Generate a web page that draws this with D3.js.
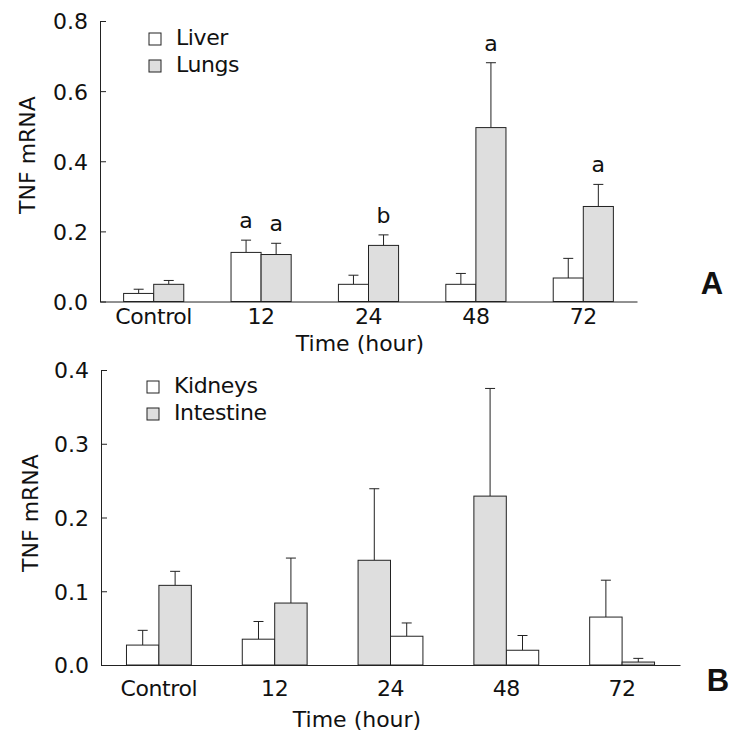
<!DOCTYPE html>
<html>
<head>
<meta charset="utf-8">
<script src="https://cdn.jsdelivr.net/npm/d3@7"></script>
<style>
  body { margin: 0; background: #fff; }
  svg text { font-family: "DejaVu Sans", sans-serif; fill: #111; }
</style>
</head>
<body>
<svg id="chart" width="741" height="742"></svg>
<script>
const categories = ['Control', '12', '24', '48', '72'];

// panel A
const liverMean = [0.023, 0.140, 0.049, 0.049, 0.067];
const liverErr = [0.012, 0.035, 0.026, 0.031, 0.056];
const lungsMean = [0.049, 0.134, 0.160, 0.496, 0.271];
const lungsErr = [0.011, 0.032, 0.030, 0.185, 0.063];
const liverMarks = ['', 'a', '', '', ''];
const lungsMarks = ['', 'a', 'b', 'a', 'a'];
const ticksA = [0, 0.2, 0.4, 0.6, 0.8];

// panel B
const kidneysMean = [0.027, 0.035, 0.039, 0.020, 0.065];
const kidneysErr = [0.020, 0.024, 0.018, 0.020, 0.050];
const intestineMean = [0.108, 0.084, 0.142, 0.229, 0.004];
const intestineErr = [0.019, 0.061, 0.097, 0.146, 0.005];
// which side each organ sits on, per time point
const orderB = [
  ['Kidneys', 'Intestine'],
  ['Kidneys', 'Intestine'],
  ['Intestine', 'Kidneys'],
  ['Intestine', 'Kidneys'],
  ['Kidneys', 'Intestine']
];
const ticksB = [0, 0.1, 0.2, 0.3, 0.4];

const fills = { white: '#ffffff', grey: '#dedede' };
const fs = '22px';
const svg = d3.select('#chart');

const drawPanel = p => {
  const g = svg.append('g');
  const x0 = d3.scaleBand().domain(categories).range(p.xr)
    .paddingInner(0.44).paddingOuter(0.22);
  const x1 = d3.scaleBand().domain([0, 1]).range([0, x0.bandwidth()]);
  const y = d3.scaleLinear().domain(p.ydom).range(p.yr);

  // bars
  const bars = [];
  p.series.forEach(s => {
    categories.forEach((c, i) => {
      bars.push({
        cat: c, name: s.name, fill: s.fill,
        v: s.mean[i], e: s.err[i], mark: s.marks ? s.marks[i] : '',
        slot: p.order[i].indexOf(s.name)
      });
    });
  });
  const bx = d => x0(d.cat) + x1(d.slot);
  const bw = x1.bandwidth();

  // error bars (upper only)
  g.selectAll('.err').data(bars).enter().append('path')
    .attr('d', d => {
      const cx = bx(d) + bw / 2;
      return `M${cx},${y(d.v)}V${y(d.v + d.e)}M${cx - 5},${y(d.v + d.e)}H${cx + 5}`;
    })
    .attr('stroke', '#222').attr('fill', 'none');

  g.selectAll('.bar').data(bars).enter().append('rect')
    .attr('x', bx).attr('width', bw)
    .attr('y', d => y(d.v)).attr('height', d => y(0) - y(d.v))
    .attr('fill', d => d.fill).attr('stroke', '#222');

  g.selectAll('.mark').data(bars.filter(d => d.mark)).enter().append('text')
    .attr('x', d => bx(d) + bw / 2).attr('y', d => y(d.v + d.e) - 12)
    .attr('text-anchor', 'middle').style('font-size', fs)
    .text(d => d.mark);

  // axes
  const ya = g.append('g').attr('transform', `translate(${p.xr[0]},0)`)
    .call(d3.axisLeft(y).tickValues(p.ticks).tickFormat(d3.format('.1f'))
      .tickSizeInner(-6).tickSizeOuter(0).tickPadding(12));
  ya.selectAll('text').style('font-size', fs).attr('dy', '0.36em');

  const xa = g.append('g').attr('transform', `translate(0,${y(0)})`)
    .call(d3.axisBottom(x0).tickSize(0).tickPadding(p.xpad));
  xa.selectAll('text').style('font-size', fs).style('letter-spacing', '-0.4px');
  g.selectAll('.domain, .tick line').attr('stroke', '#222');
  g.selectAll('.tick text').attr('fill', '#111').attr('font-family', null);

  g.append('text').attr('x', p.xtitle[0]).attr('y', p.xtitle[1])
    .attr('text-anchor', 'middle').style('font-size', fs).text('Time (hour)');
  g.append('text')
    .attr('transform', `translate(${p.ytitle[0]},${p.ytitle[1]}) rotate(-90)`)
    .attr('text-anchor', 'middle').style('font-size', fs).text('TNF mRNA');

  // legend
  p.series.forEach((s, i) => {
    g.append('rect').attr('x', p.legend[0]).attr('y', p.legend[1] + i * 27)
      .attr('width', 12).attr('height', 12)
      .attr('fill', s.fill).attr('stroke', '#222');
    g.append('text').attr('x', p.legend[0] + 27).attr('y', p.legend[1] + i * 27 + 12)
      .style('font-size', fs).style('letter-spacing', '-0.4px').text(s.name);
  });

  g.append('text').attr('x', p.tag[0]).attr('y', p.tag[1])
    .attr('text-anchor', 'middle')
    .style('font-family', '"Liberation Sans", Arial, sans-serif')
    .style('font-weight', 'bold').style('font-size', '31px').text(p.label);
};

drawPanel({
  label: 'A', tag: [712, 294],
  xr: [100, 637], yr: [301.5, 21], ydom: [0, 0.8], ticks: ticksA, xpad: 7,
  xtitle: [360, 351], ytitle: [35, 155], legend: [149, 33],
  order: categories.map(() => ['Liver', 'Lungs']),
  series: [
    { name: 'Liver', mean: liverMean, err: liverErr, marks: liverMarks, fill: fills.white },
    { name: 'Lungs', mean: lungsMean, err: lungsErr, marks: lungsMarks, fill: fills.grey }
  ]
});

drawPanel({
  label: 'B', tag: [718, 691],
  xr: [101, 680], yr: [665, 370], ydom: [0, 0.4], ticks: ticksB, xpad: 15,
  xtitle: [357, 727], ytitle: [38, 513], legend: [147, 381],
  order: orderB,
  series: [
    { name: 'Kidneys', mean: kidneysMean, err: kidneysErr, fill: fills.white },
    { name: 'Intestine', mean: intestineMean, err: intestineErr, fill: fills.grey }
  ]
});
</script>
</body>
</html>
